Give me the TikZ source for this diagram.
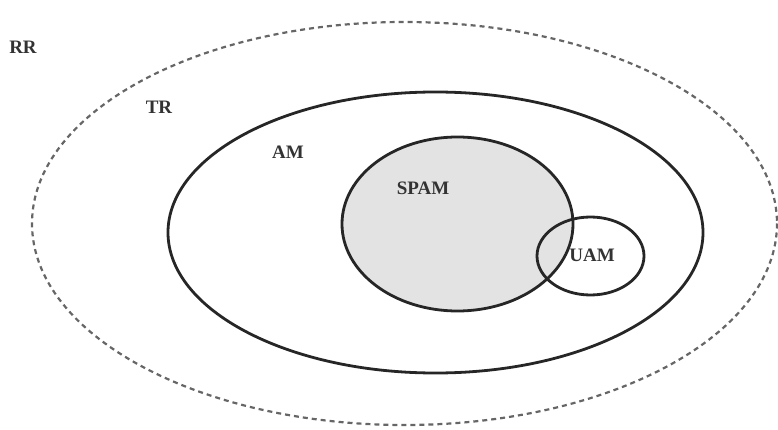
\documentclass[tikz,border=0pt]{standalone}
\usepackage{fontspec}
\setmainfont{Liberation Serif}
\begin{document}
\begin{tikzpicture}[x=1pt,y=-1pt,
  solidring/.style={draw=black!85,line width=2.8pt},
  dashring/.style={draw=black!60,line width=2.2pt,dash pattern=on 5pt off 4pt},
  lbl/.style={font=\fontsize{19}{19}\selectfont\bfseries,text=black!80,inner sep=0pt}]
\useasboundingbox (0,0) rectangle (778,430);
\draw[dashring] (404.5,223.5) ellipse [x radius=372.5,y radius=201.5];
\draw[solidring] (435.5,232.5) ellipse [x radius=267.5,y radius=140.5];
\draw[solidring,fill=black!11] (457.5,224) ellipse [x radius=115.5,y radius=87];
\draw[solidring] (590.5,256) ellipse [x radius=53.5,y radius=39];
\node[lbl] (rr) at (23,47) {RR};
\node[lbl] (tr) at (159,107) {TR};
\node[lbl] (am) at (288,152) {AM};
\node[lbl] (spam) at (423,188) {SPAM};
\node[lbl] (uam) at (592,255) {UAM};
\end{tikzpicture}
\end{document}
